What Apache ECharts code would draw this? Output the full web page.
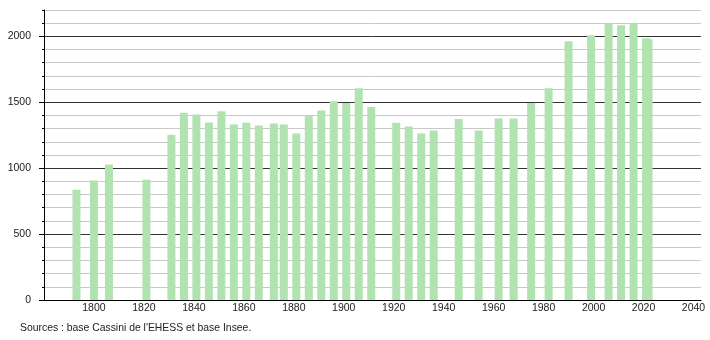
<!DOCTYPE html>
<html>
<head>
<meta charset="utf-8">
<script src="https://cdn.jsdelivr.net/npm/echarts@6/dist/echarts.min.js"></script>
<style>
html,body{margin:0;padding:0;background:#fff;}
#chart{width:710px;height:340px;}
</style>
</head>
<body>
<div id="chart"></div>
<script>
const years = [1793,1800,1806,1821,1831,1836,1841,1846,1851,1856,1861,1866,1872,1876,1881,1886,1891,1896,1901,1906,1911,1921,1926,1931,1936,1946,1954,1962,1968,1975,1982,1990,1999,2006,2011,2016,2021,2022];
const population = [837,906,1027,913,1253,1421,1408,1347,1431,1332,1345,1324,1339,1332,1263,1400,1438,1507,1494,1606,1464,1345,1317,1263,1286,1373,1286,1377,1377,1494,1606,1963,2009,2095,2085,2100,1986,1978];
const yMajorTicks = [0,500,1000,1500,2000];
const sourceText = "Sources : base Cassini de l'EHESS et base Insee.";

const chart = echarts.init(document.getElementById('chart'), null, {renderer:'canvas'});
const font = 'Liberation Sans, Arial, sans-serif';
const plain = v => String(v);
chart.setOption({
  animation: false,
  backgroundColor: '#fff',
  grid: {left: 44, right: 9, top: 10, bottom: 40, containLabel: false},
  xAxis: {
    type: 'value', min: 1780, max: 2043, interval: 20,
    axisLine: {show: true, lineStyle: {color: '#000', width: 1}},
    axisTick: {show: false},
    splitLine: {show: false},
    axisLabel: {showMinLabel: false, showMaxLabel: false, formatter: plain, color: '#222', fontSize: 10.5, fontFamily: font, margin: 3}
  },
  yAxis: [{
    type: 'value', min: 0, max: 2200, interval: 100,
    axisLine: {show: true, lineStyle: {color: '#000', width: 1}},
    axisTick: {show: true, length: 2, lineStyle: {color: '#000'}},
    axisLabel: {show: false},
    splitLine: {show: true, lineStyle: {color: ['#333','#c8c8c8','#c8c8c8','#c8c8c8','#c8c8c8'], width: 1}}
  },{
    type: 'value', min: 0, max: 2200, position: 'left',
    axisLine: {show: false},
    axisTick: {show: true, length: 5, customValues: yMajorTicks, lineStyle: {color: '#000'}},
    axisLabel: {show: true, customValues: yMajorTicks, formatter: plain, color: '#222', fontSize: 10.5, fontFamily: font, margin: 13},
    splitLine: {show: false}
  }],
  series: [{
    type: 'bar',
    barWidth: 8,
    itemStyle: {color: '#b0e3b0'},
    data: years.map((y, i) => [y, population[i]])
  }],
  graphic: [{
    type: 'text', left: 20, top: 323,
    style: {text: sourceText, font: '10.4px ' + font, fill: '#222'}
  }]
});
</script>
</body>
</html>
